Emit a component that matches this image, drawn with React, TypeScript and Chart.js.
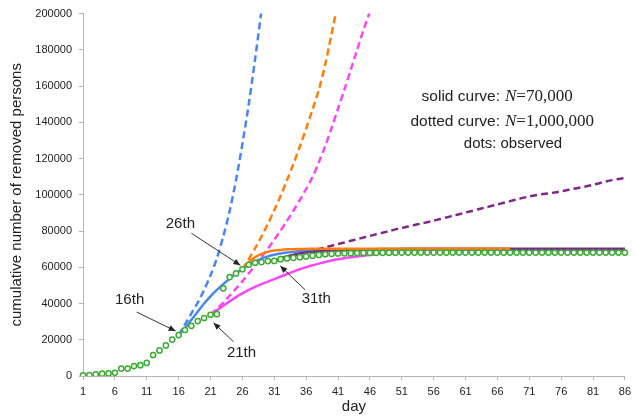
import React, { useEffect, useRef } from 'react';
import { Chart, registerables } from 'chart.js';
Chart.register(...registerables);

const days = [
  1, 2, 3, 4, 5, 6, 7, 8, 9, 10, 11, 12, 13, 14, 15, 16, 17, 18, 19, 20,
  21, 22, 23, 24, 25, 26, 27, 28, 29, 30, 31, 32, 33, 34, 35, 36, 37, 38, 39, 40,
  41, 42, 43, 44, 45, 46, 47, 48, 49, 50, 51, 52, 53, 54, 55, 56, 57, 58, 59, 60,
  61, 62, 63, 64, 65, 66, 67, 68, 69, 70, 71, 72, 73, 74, 75, 76, 77, 78, 79, 80,
  81, 82, 83, 84, 85, 86,
];

// observed (dots), day 1..86
const observed = [
  400, 500, 900, 1300, 1400, 1800, 4100, 4100, 5500, 6000,
  7200, 11600, 14100, 16900, 20100, 22600, 25400, 27700, 30300, 32000,
  33800, 34100, 48400, 54600, 56600, 58900, 61400, 62500, 62900, 63400,
  63500, 64500, 64900, 65200, 65600, 66000, 66400, 66800, 67200, 67400,
  67600, 67700, 67800, 67850, 67900, 67950, 68000, 68000, 68050, 68050,
  68100, 68100, 68100, 68100, 68100, 68100, 68100, 68100, 68100, 68100,
  68100, 68100, 68100, 68100, 68100, 68100, 68100, 68100, 68100, 68100,
  68100, 68100, 68100, 68100, 68100, 68100, 68100, 68100, 68100, 68100,
  68100, 68100, 68100, 68100, 68100, 68100,
];

// solid curves (N = 70,000)
const blueSolidStart = 16;
const blueSolid = [
  22600, 26500, 31000, 35500, 40000, 44000, 47500, 50700, 53700, 56500,
  59000, 61400, 63300, 64800, 66000, 66900, 67600, 68100, 68500, 68800,
  69000, 69200, 69300, 69400, 69500, 69550, 69600, 69650, 69700, 69700,
  69750, 69750, 69750, 69750, 69750, 69750, 69750, 69750, 69750, 69750,
  69800, 69800, 69800, 69800, 69800, 69800, 69800, 69800, 69800, 69800,
  69800, 69800, 69800, 69800, 69800, 69800, 69800, 69800, 69800, 69800,
  69800, 69800, 69800, 69800, 69800, 69800, 69800, 69800, 69800, 69800,
  69800,
];
const magentaSolidStart = 21;
const magentaSolid = [
  34000, 36300, 38800, 41200, 43500, 45600, 47500, 49200, 50700, 52100,
  53500, 54900, 56300, 57600, 58900, 60000, 61100, 62000, 62900, 63700,
  64400, 65000, 65500, 66000, 66400, 66800, 67200, 67500, 67800, 68000,
  68200, 68350, 68500, 68600, 68700, 68800, 68850, 68900, 68950, 69000,
  69050, 69050, 69100, 69100, 69100, 69150, 69150, 69150, 69150, 69200,
  69200, 69200, 69200, 69200, 69200, 69200, 69200, 69200, 69200, 69200,
  69200, 69200, 69200, 69200, 69200, 69200,
];
const orangeSolidStart = 26;
const orangeSolid = [
  58900, 62800, 65600, 67400, 68500, 69200, 69600, 69900, 70000, 70100,
  70150, 70200, 70200, 70200, 70200, 70200, 70200, 70200, 70200, 70200,
  70200, 70200, 70200, 70200, 70200, 70200, 70200, 70200, 70200, 70200,
  70200, 70200, 70200, 70200, 70200, 70200, 70200, 70200, 70200, 70200,
  70200, 70200, 70200,
];
const purpleSolidStart = 31;
const purpleSolid = [
  63500, 64900, 66000, 66900, 67600, 68100, 68500, 68800, 69100, 69300,
  69500, 69600, 69700, 69800, 69900, 69950, 70000, 70050, 70100, 70100,
  70200, 70200, 70200, 70200, 70200, 70200, 70200, 70200, 70200, 70200,
  70200, 70200, 70200, 70200, 70200, 70200, 70200, 70200, 70200, 70200,
  70200, 70200, 70200, 70200, 70200, 70200, 70200, 70200, 70200, 70200,
  70200, 70200, 70200, 70200, 70200, 70200,
];

// dotted curves (N = 1,000,000)
const blueDashedStart = 16;
const blueDashed = [
  22600, 28500, 34500, 40500, 47500, 55500, 65000, 77000, 91000, 108000,
  128000, 150000, 175000, 202000, 231000,
];
const magentaDashedStart = 21;
const magentaDashed = [
  34000, 37000, 40500, 44300, 48200, 52300, 56600, 61000, 65600, 70300,
  75200, 80300, 85600, 91200, 97000, 103200, 109800, 118000, 127000, 137000,
  147500, 158000, 169000, 180000, 191000, 201000, 212000,
];
const orangeDashedStart = 26;
const orangeDashed = [
  58900, 64500, 70500, 77000, 84000, 91500, 99500, 108000, 117000, 126500,
  136500, 147000, 158000, 172000, 189000, 206000, 224000,
];
const purpleDashedStart = 31;
const purpleDashed = [
  63500, 64400, 65400, 66400, 67400, 68300, 69200, 70100, 71000, 71900,
  72800, 73700, 74600, 75500, 76400, 77300, 78200, 79100, 80000, 80900,
  81700, 82500, 83300, 84100, 84900, 85700, 86600, 87500, 88400, 89300,
  90200, 91100, 92000, 92900, 93800, 94700, 95600, 96500, 97400, 98300,
  99100, 99800, 100400, 100800, 101300, 101900, 102600, 103300, 104000, 104700,
  105500, 106400, 107300, 108100, 108700, 109400,
];

const yTicksMax = 200000;
const yTickStep = 20000;

const BLUE = '#4a86f0';
const ORANGE = '#ff7f0a';
const MAGENTA = '#fb48f4';
const PURPLE = '#7d2a86';
const GREEN = '#3caa35';

function pad(start: number, vals: number[]) {
  const out: (number | null)[] = [];
  for (let k = 0; k < days.length; k++) {
    const i = days[k] - start;
    out.push(i >= 0 && i < vals.length ? vals[i] : null);
  }
  return out;
}

const SANS = '"Liberation Sans", Arial, Helvetica, sans-serif';
const SERIF = '"Liberation Serif", "Times New Roman", serif';

function arrow(ctx: CanvasRenderingContext2D, x1: number, y1: number, x2: number, y2: number) {
  ctx.beginPath();
  ctx.moveTo(x1, y1);
  ctx.lineTo(x2, y2);
  ctx.stroke();
  const a = Math.atan2(y2 - y1, x2 - x1);
  const L = 7, W = 3;
  ctx.beginPath();
  ctx.moveTo(x2, y2);
  ctx.lineTo(x2 - L * Math.cos(a) + W * Math.sin(a), y2 - L * Math.sin(a) - W * Math.cos(a));
  ctx.lineTo(x2 - L * Math.cos(a) - W * Math.sin(a), y2 - L * Math.sin(a) + W * Math.cos(a));
  ctx.closePath();
  ctx.fill();
}

const annotPlugin = {
  id: 'annot',
  afterDraw(chart: any) {
    const ctx: CanvasRenderingContext2D = chart.ctx;
    const xs = chart.scales.x;
    const ys = chart.scales.y;
    const px = (day: number) => xs.getPixelForValue(day - 1);
    const py = (v: number) => ys.getPixelForValue(v);
    ctx.save();
    ctx.fillStyle = '#222';
    ctx.strokeStyle = '#333';
    ctx.lineWidth = 1;
    ctx.textAlign = 'center';
    ctx.textBaseline = 'middle';

    // axis titles
    ctx.font = '15px ' + SANS;
    ctx.fillText('day', (chart.chartArea.left + chart.chartArea.right) / 2, 407);
    ctx.save();
    ctx.translate(17, (chart.chartArea.top + chart.chartArea.bottom) / 2);
    ctx.rotate(-Math.PI / 2);
    ctx.fillText('cumulative number of removed persons', 0, 0);
    ctx.restore();

    // day annotations
    const t16x = px(16) - 3, t16y = py(observed[15]) - 4;
    arrow(ctx, t16x - 39, t16y - 19, t16x, t16y);
    ctx.fillText('16th', t16x - 46, t16y - 31);

    const t21x = px(21) + 3, t21y = py(observed[20]) + 8;
    arrow(ctx, t21x + 20, t21y + 19, t21x, t21y);
    ctx.fillText('21th', t21x + 28, t21y + 30);

    const t26x = px(26) - 2, t26y = py(observed[25]) - 4;
    arrow(ctx, t26x - 49, t26y - 32, t26x, t26y);
    ctx.fillText('26th', t26x - 60, t26y - 41);

    const t31x = px(31) + 6, t31y = py(observed[30]) + 5;
    arrow(ctx, t31x + 25, t31y + 24, t31x, t31y);
    ctx.fillText('31th', t31x + 36, t31y + 33);

    // legend text
    ctx.textAlign = 'right';
    ctx.font = '15.5px ' + SANS;
    ctx.fillText('solid curve:', 500, 97);
    ctx.fillText('dotted curve:', 500, 122);
    ctx.textAlign = 'center';
    ctx.font = '15px ' + SANS;
    ctx.fillText('dots: observed', 513, 144);

    ctx.textAlign = 'left';
    const serifLine = (y: number, rest: string) => {
      ctx.font = 'italic 17px ' + SERIF;
      ctx.fillText('N', 505, y);
      const w = ctx.measureText('N').width;
      ctx.font = '17px ' + SERIF;
      ctx.fillText(rest, 505 + w, y);
    };
    serifLine(97, '=70,000');
    serifLine(122, '=1,000,000');
    ctx.restore();
  },
};

export default function App() {
  const ref = useRef<HTMLCanvasElement>(null);
  useEffect(() => {
    document.body.style.margin = '0';
    const solid = (label: string, color: string, data: (number | null)[]) => ({
      label, data, borderColor: color, backgroundColor: color, borderWidth: 2.5,
      pointRadius: 0, fill: false, tension: 0.3,
    });
    const dashed = (label: string, color: string, data: (number | null)[]) => ({
      ...solid(label, color, data), borderDash: [7, 4],
    });
    const chart = new Chart(ref.current!, {
      type: 'line',
      data: {
        labels: days.map(String),
        datasets: [
          {
            label: 'observed', data: observed, showLine: false,
            pointRadius: 2.6, pointBorderWidth: 1.5, pointBorderColor: GREEN,
            pointBackgroundColor: '#ffffff', borderColor: GREEN, backgroundColor: '#fff',
          },
          solid('orange N=70,000', ORANGE, pad(orangeSolidStart, orangeSolid)),
          solid('purple N=70,000', PURPLE, pad(purpleSolidStart, purpleSolid)),
          solid('blue N=70,000', BLUE, pad(blueSolidStart, blueSolid)),
          solid('magenta N=70,000', MAGENTA, pad(magentaSolidStart, magentaSolid)),
          dashed('purple N=1,000,000', PURPLE, pad(purpleDashedStart, purpleDashed)),
          dashed('magenta N=1,000,000', MAGENTA, pad(magentaDashedStart, magentaDashed)),
          dashed('orange N=1,000,000', ORANGE, pad(orangeDashedStart, orangeDashed)),
          dashed('blue N=1,000,000', BLUE, pad(blueDashedStart, blueDashed)),
        ],
      },
      options: {
        animation: false,
        responsive: false,
        devicePixelRatio: 1,
        layout: { padding: { top: 13, right: 6, left: 0, bottom: 0 } },
        plugins: { legend: { display: false }, tooltip: { enabled: false } },
        scales: {
          x: {
            type: 'category',
            offset: false,
            afterFit: (s: any) => { s.height = 40; },
            grid: { display: true, drawOnChartArea: false, drawTicks: true, tickLength: 4, color: '#b5b5b5' },
            border: { display: true, color: '#b5b5b5' },
            ticks: {
              autoSkip: false, maxRotation: 0, padding: 5,
              color: '#222', font: { family: SANS, size: 11 },
              callback: function (this: any, value: any, index: number) {
                return index % 5 === 0 ? this.getLabelForValue(value) : null;
              },
            },
          },
          y: {
            min: 0, max: yTicksMax,
            afterFit: (s: any) => { s.width = 83; },
            grid: { display: true, drawOnChartArea: false, drawTicks: true, tickLength: 4, color: '#b5b5b5' },
            border: { display: true, color: '#b5b5b5' },
            ticks: {
              stepSize: yTickStep, padding: 7, color: '#222', font: { family: SANS, size: 11 },
              callback: (value: any) => String(value),
            },
          },
        },
      },
      plugins: [annotPlugin],
    });
    return () => chart.destroy();
  }, []);
  return (
    <div style={{ width: 636, height: 416 }}>
      <canvas ref={ref} width={636} height={416} />
    </div>
  );
}
